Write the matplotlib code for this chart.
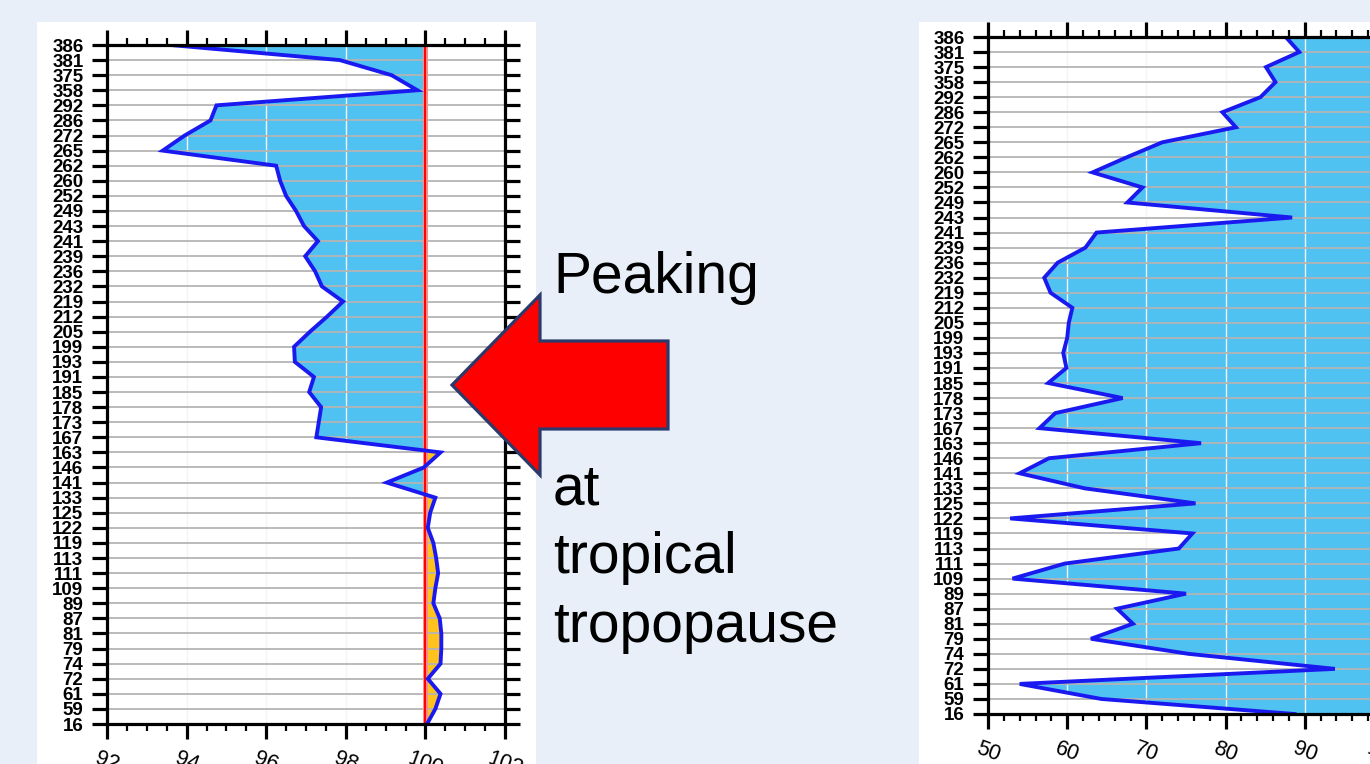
import matplotlib
matplotlib.use("Agg")
import matplotlib.pyplot as plt
import numpy as np
from matplotlib.patches import Polygon, Rectangle
from matplotlib.ticker import MultipleLocator

plt.rcParams["font.family"] = ["Liberation Sans", "DejaVu Sans"]

# level labels, listed top to bottom
levels = ["386", "381", "375", "358", "292", "286", "272", "265", "262", "260",
          "252", "249", "243", "241", "239", "236", "232", "219", "212", "205",
          "199", "193", "191", "185", "178", "173", "167", "163", "146", "141",
          "133", "125", "122", "119", "113", "111", "109", "89", "87", "81",
          "79", "74", "72", "61", "59", "16"]

left_vals = [93.6, 97.85, 99.15, 99.8, 94.75, 94.6, 93.95, 93.4, 96.25, 96.35,
             96.5, 96.75, 96.95, 97.3, 96.98, 97.23, 97.4, 97.93, 97.53, 97.1,
             96.7, 96.72, 97.2, 97.08, 97.38, 97.32, 97.26, 100.38, 99.96, 99.03,
             100.25, 100.12, 100.06, 100.2, 100.27, 100.32, 100.25, 100.2, 100.36, 100.4,
             100.4, 100.38, 100.06, 100.38, 100.25, 100.04]

right_vals = [87.6, 89.3, 85.1, 86.3, 84.4, 79.6, 81.3, 72.0, 67.5, 63.2,
              69.5, 67.6, 88.4, 63.7, 62.3, 58.8, 57.1, 57.9, 60.65, 60.2,
              60.0, 59.5, 59.9, 57.6, 67.0, 58.5, 56.5, 76.9, 57.7, 54.0,
              62.2, 76.2, 52.8, 75.8, 74.1, 59.7, 53.1, 75.0, 66.3, 68.3,
              63.0, 75.3, 93.8, 54.0, 64.3, 88.7]

W, H = 1370, 764
bg = "#E8EFF8"
sky = "#50C2F2"
amber = "#FFC21E"
line_blue = "#1A1AF0"

fig = plt.figure(figsize=(W / 100, H / 100), dpi=100)
fig.patch.set_facecolor(bg)

# white panels behind each plot
fig.add_artist(Rectangle((37 / W, 0), (536 - 37) / W, 1 - 22 / H,
                         transform=fig.transFigure, facecolor="white",
                         edgecolor="none", zorder=0))
fig.add_artist(Rectangle((919 / W, 0), 1, 1 - 22 / H,
                         transform=fig.transFigure, facecolor="white",
                         edgecolor="none", zorder=0))


def px_box(x0, y0, x1, y1):
    return [x0 / W, 1 - y1 / H, (x1 - x0) / W, (y1 - y0) / H]


def profile(ax, vals, xlim, major, minor):
    y = np.arange(len(levels))
    v = np.array(vals)
    ax.fill_betweenx(y, v, 100, where=v <= 100, interpolate=True,
                     color=sky, lw=0, zorder=1)
    ax.fill_betweenx(y, v, 100, where=v >= 100, interpolate=True,
                     color=amber, lw=0, zorder=1)
    ax.plot(v, y, color=line_blue, lw=2.8, zorder=4, solid_joinstyle="miter")
    ax.set_xlim(*xlim)
    ax.set_ylim(len(levels) - 1, 0)
    ax.set_yticks(y)
    ax.set_yticklabels(levels, fontweight="bold")
    ax.xaxis.set_major_locator(MultipleLocator(major))
    ax.xaxis.set_minor_locator(MultipleLocator(minor))
    ax.set_axisbelow(False)
    ax.yaxis.grid(True, color="#B4B4B4", lw=1.3)
    ax.xaxis.grid(True, color="#F4F4F4", lw=1.0)
    for s in ax.spines.values():
        s.set_linewidth(2.3)
        s.set_zorder(5)
    ax.tick_params(axis="y", which="both", direction="out", length=11,
                   width=2.3, left=True, right=True, labelright=False, pad=6,
                   labelsize=13.5)
    ax.tick_params(axis="x", which="major", direction="out", length=10.5,
                   width=2.3, top=True, bottom=True, labeltop=False, pad=7,
                   labelsize=15.5, labelrotation=-20)
    ax.tick_params(axis="x", which="minor", direction="out", length=5,
                   width=1.6, top=True, bottom=True)


ax1 = fig.add_axes(px_box(107, 45, 505, 724))
profile(ax1, left_vals, (92, 102), 2, 0.5)
ax1.axvline(100, color="#FF8A8A", lw=3.6, zorder=3)
ax1.axvline(100, color="red", lw=1.4, zorder=3)

ax2 = fig.add_axes(px_box(988, 37, 1384, 714))
profile(ax2, right_vals, (50, 100), 10, 2)

# arrow pointing at the left profile
arrow_px = [(452, 385), (540, 295), (540, 341), (668, 341),
            (668, 429), (540, 429), (540, 475)]
arrow = Polygon([(x / W, 1 - y / H) for x, y in arrow_px], closed=True,
                transform=fig.transFigure, facecolor="#FF0000",
                edgecolor="#2B3A6B", lw=2.3, zorder=6)
fig.add_artist(arrow)

txt = dict(fontsize=41, color="black", ha="left", va="baseline")
fig.text(553 / W, 1 - 293 / H, "Peaking", **txt)
fig.text(553 / W, 1 - 505 / H, "at", **txt)
fig.text(553 / W, 1 - 573 / H, "tropical", **txt)
fig.text(553 / W, 1 - 642 / H, "tropopause", **txt)

fig.savefig("out.png", dpi=100, facecolor=bg)
